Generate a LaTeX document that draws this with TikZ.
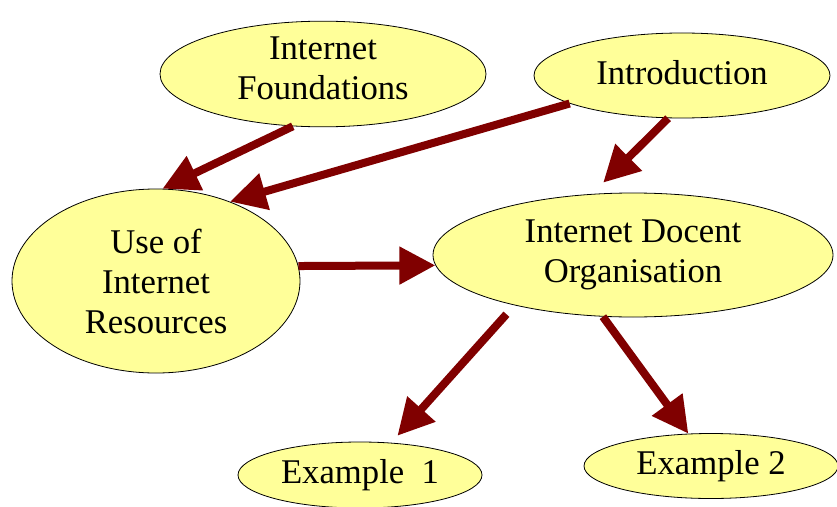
\documentclass[tikz,border=0pt]{standalone}
\usepackage{fontspec}
\setmainfont{Liberation Serif}
\usepackage{tikz}
\usetikzlibrary{positioning}
\usetikzlibrary{shapes.geometric}
\usetikzlibrary{arrows.meta}
\definecolor{topicfill}{rgb}{1,1,0.6}
\definecolor{linkred}{rgb}{0.5,0,0}

\begin{document}
\begin{tikzpicture}[x=0.75pt,y=-0.75pt,
topic/.style={ellipse, draw=black, line width=0.6pt, fill=topicfill, inner sep=0pt, align=center, font=\fontsize{26}{30}\selectfont},
link/.style={draw=linkred, line width=6pt, -{Triangle[length=27pt,width=27pt]}}]
\useasboundingbox (0,0) rectangle (837,506);
\node[topic, minimum width=244.5pt, minimum height=78pt, text depth=9pt] (found) at (323,74) {Internet\\Foundations};
\node[topic, minimum width=222pt, minimum height=63.75pt, text depth=5pt] (intro) at (682,75.5) {Introduction};
\node[topic, minimum width=216pt, minimum height=138pt] (use) at (156,281) {Use of\\Internet\\Resources};
\node[topic, minimum width=300pt, minimum height=93pt] (docent) at (633,255) {Internet Docent\\Organisation};
\node[topic, minimum width=183pt, minimum height=49.5pt] (ex1) at (360,475) {Example~ 1};
\node[topic, minimum width=190.5pt, minimum height=48.75pt] (ex2) at (711,466) {Example 2};
% arrows between topics
\draw[link] (found.240) -- (use.86);
\draw[link] (intro.194) -- (use.47);
\draw[link, shorten >=12pt] (intro.252) -- (docent.124);
\draw[link] (use.6) -- (docent.183);
\draw[link, shorten <=9pt, shorten >=7pt] (docent.203) -- (ex1.46);
\draw[link] (docent.244) -- (ex2.125);
\end{tikzpicture}
\end{document}
